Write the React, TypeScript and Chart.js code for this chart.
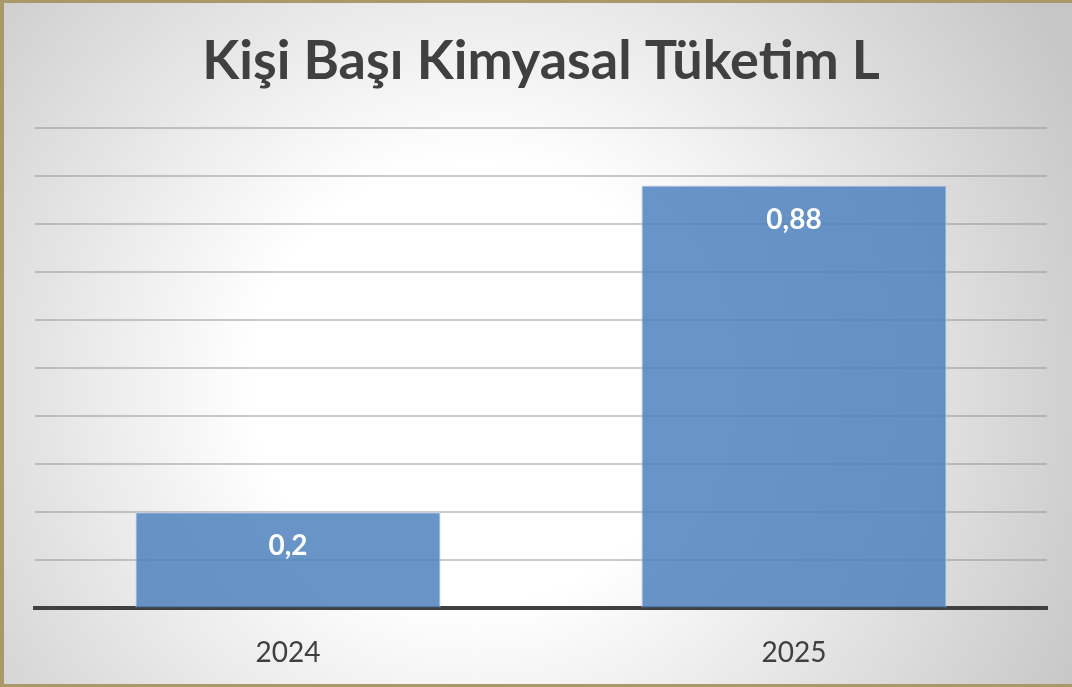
import React, { useEffect, useRef } from "react";
import { Chart, registerables } from "chart.js";

Chart.register(...registerables);

const titleText = "Kişi Başı Kimyasal Tüketim L";
const categories = ["2024", "2025"];
const values = [0.2, 0.88];
const yMin = 0;
const yMax = 1;
const yStep = 0.1;

const dataLabelPlugin = {
  id: "dataLabels",
  afterDatasetsDraw(chart: any) {
    const ctx = chart.ctx;
    const meta = chart.getDatasetMeta(0);
    ctx.save();
    ctx.fillStyle = "#ffffff";
    ctx.font = "bold 28px Lato";
    ctx.textAlign = "center";
    ctx.textBaseline = "middle";
    meta.data.forEach((bar: any, i: number) => {
      const label = String(values[i]).replace(".", ",");
      ctx.fillText(label, bar.x, bar.y + 34);
    });
    ctx.restore();
  },
};

export default function App() {
  const ref = useRef<HTMLCanvasElement | null>(null);
  useEffect(() => {
    if (!ref.current) return;
    const chart = new Chart(ref.current, {
      type: "bar",
      data: {
        labels: categories,
        datasets: [
          {
            data: values,
            backgroundColor: "rgba(79,129,189,0.85)",
            borderColor: "rgba(190,210,235,0.9)",
            borderWidth: 1,
            borderSkipped: "bottom",
            categoryPercentage: 1,
            barPercentage: 0.603,
          },
        ],
      },
      options: {
        responsive: false,
        animation: false,
        layout: { padding: { left: 35, right: 25, top: 0, bottom: -11 } },
        plugins: {
          legend: { display: false },
          tooltip: { enabled: false },
          title: {
            display: true,
            text: titleText,
            color: "#404040",
            font: { family: "Lato", size: 54, weight: "bold", lineHeight: 1.2 },
            padding: { top: 29, bottom: 34 },
          },
        },
        scales: {
          x: {
            grid: { display: false, drawTicks: false },
            border: { display: true, color: "#404040", width: 4 },
            ticks: {
              color: "#404040",
              font: { family: "Lato", size: 28 },
              padding: 28,
            },
          },
          y: {
            min: yMin,
            max: yMax,
            ticks: { display: false, stepSize: yStep },
            grid: { color: "rgba(140,140,140,0.45)", lineWidth: 2, drawTicks: false },
            border: { display: false },
          },
        },
      },
      plugins: [dataLabelPlugin],
    });
    return () => chart.destroy();
  }, []);

  return (
    <div
      style={{
        position: "absolute",
        left: 0,
        top: 0,
        width: 1072,
        height: 687,
        boxSizing: "border-box",
        borderLeft: "4px solid #a8986a",
        borderTop: "3px solid #a8986a",
        borderBottom: "3px solid #a8986a",
        background:
          "radial-gradient(circle at 470px 380px, #ffffff 0px, #ffffff 220px, #e6e6e6 420px, #c6c6c6 680px)",
        overflow: "hidden",
      }}
    >
      <canvas
        ref={ref}
        width={1072}
        height={687}
        style={{ position: "absolute", left: -4, top: -3, width: 1072, height: 687 }}
      />
    </div>
  );
}
